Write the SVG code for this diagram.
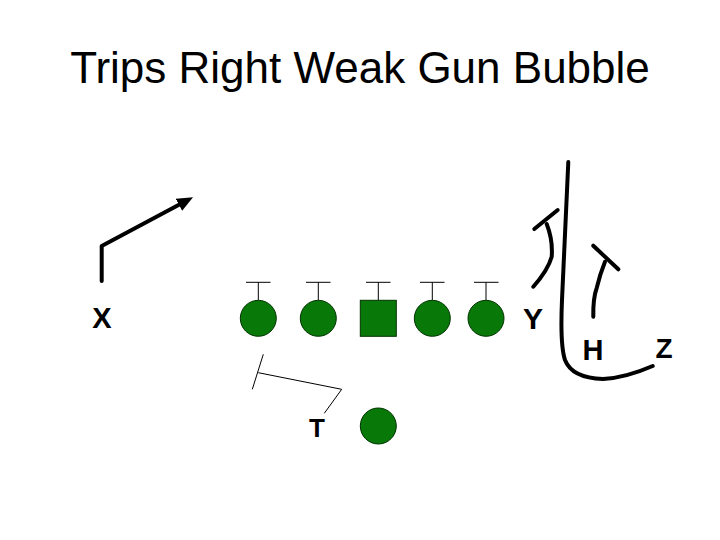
<svg xmlns="http://www.w3.org/2000/svg" width="720" height="540" viewBox="0 0 720 540">
<defs>
<style>
.lbl{font-family:"Liberation Sans",Arial,sans-serif;fill:#000;text-anchor:middle}
.b{font-weight:bold}
.pl{fill:#087808;stroke:#003300;stroke-width:1}
.thin{fill:none;stroke:#000;stroke-width:1}
.route{fill:none;stroke:#000;stroke-width:4;stroke-linecap:round;stroke-linejoin:round}
</style>
<marker id="ah" markerWidth="4" markerHeight="4" refX="2" refY="2" orient="auto" markerUnits="strokeWidth">
<path d="M0,0.3 L4,2 L0,3.7 Z" fill="#000"/>
</marker>
</defs>
<rect width="720" height="540" fill="#fff"/>
<text class="lbl" x="360" y="83" font-size="44">Trips Right Weak Gun Bubble</text>
<g id="connectors">
<path class="route" d="M101.7,281 L101.7,246 L186,201" marker-end="url(#ah)"/>
<path class="route" d="M568.3,162 L562,300 Q560,345 565,360 Q572,378 603,379 Q625,378 652.7,366"/>
<path class="route" d="M533.3,286.7 Q548,270 551.7,256.7 Q553,240 546.7,224"/>
<path class="route" d="M534.3,229 L557.7,210"/>
<path class="route" d="M593.3,316.7 Q593,298 596.7,288 Q600,274 605,261.7"/>
<path class="route" d="M593.3,245.7 L618.3,269.3"/>
<path class="thin" d="M263.3,354.3 L252.3,389.3 M258.3,372.7 L341.7,389.3 L324.3,413.3"/>
<path class="thin" d="M246,282.3 H270.5 M258.3,282.3 V300 M306,282.3 H330.5 M318.3,282.3 V300 M366,282.3 H390.5 M378.3,282.3 V300 M420,282.3 H444.5 M432.3,282.3 V300 M474,282.3 H498.5 M486,282.3 V300"/>
</g>
<g id="lg"><circle class="pl" cx="258.3" cy="318.3" r="18"/></g>
<g id="lt"><circle class="pl" cx="318.3" cy="318.3" r="18"/></g>
<g id="c"><rect class="pl" x="360.3" y="300.3" width="36" height="36"/></g>
<g id="rt"><circle class="pl" cx="432.3" cy="318.3" r="18"/></g>
<g id="rg"><circle class="pl" cx="486" cy="318.3" r="18"/></g>
<g id="qb"><circle class="pl" cx="378.3" cy="426" r="18"/></g>
<g id="x"><text class="lbl b" x="102" y="328" font-size="29">X</text></g>
<g id="y"><text class="lbl b" x="533" y="329" font-size="30">Y</text></g>
<g id="h"><text class="lbl b" x="593" y="360" font-size="29">H</text></g>
<g id="z"><text class="lbl b" x="664" y="358" font-size="28">Z</text></g>
<g id="t"><text class="lbl b" x="317" y="437" font-size="26">T</text></g>
</svg>
